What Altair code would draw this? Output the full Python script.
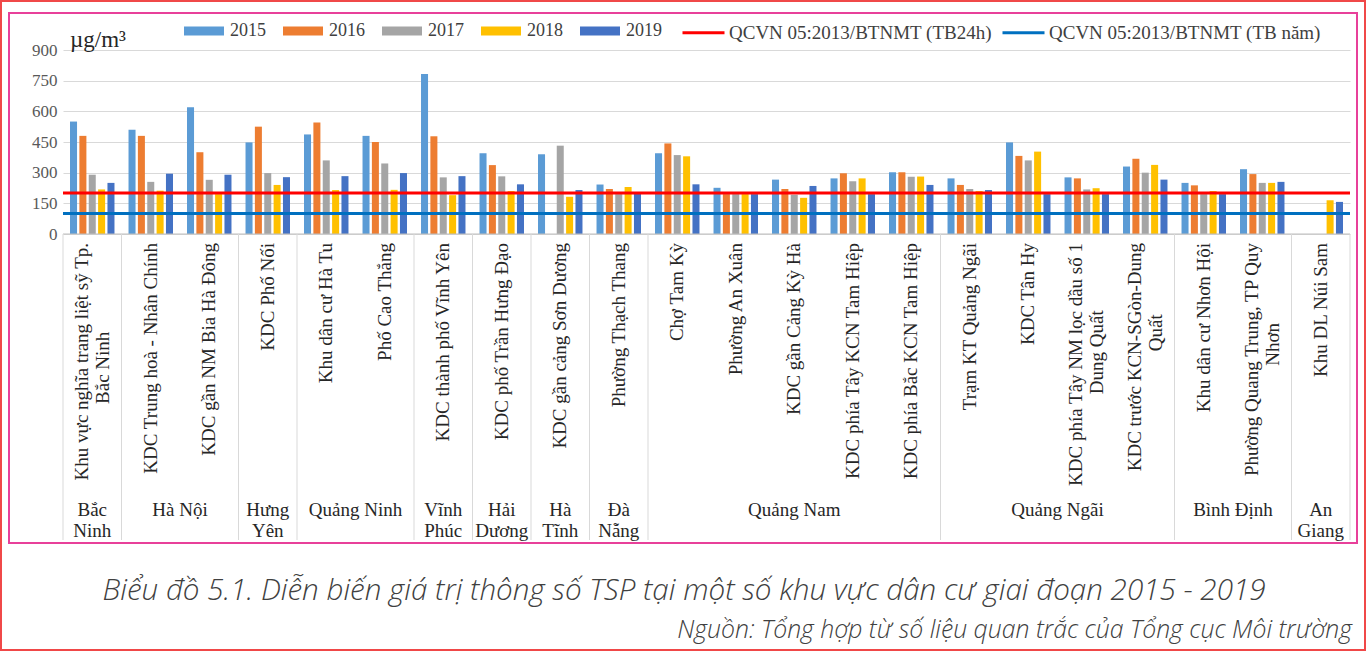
import altair as alt
import pandas as pd

SERIF = "Liberation Serif"
SANS = "Open Sans"

years = ["2015", "2016", "2017", "2018", "2019"]
year_colors = ["#5B9BD5", "#ED7D31", "#A5A5A5", "#FFC000", "#4472C4"]

locations = [
    "Khu vực nghĩa trang liệt  sỹ Tp.\nBắc Ninh",
    "KDC Trung hoà - Nhân Chính",
    "KDC gần NM Bia Hà Đông",
    "KDC Phố Nối",
    "Khu dân cư  Hà Tu",
    "Phố Cao Thắng",
    "KDC thành phố Vĩnh Yên",
    "KDC phố Trần Hưng Đạo",
    "KDC gần cảng Sơn Dương",
    "Phường Thạch Thang",
    "Chợ Tam Kỳ",
    "Phường An Xuân",
    "KDC gần Cảng Kỳ Hà",
    "KDC phía Tây KCN Tam Hiệp",
    "KDC phía Bắc KCN Tam Hiệp",
    "Trạm KT Quảng Ngãi",
    "KDC Tân Hy",
    "KDC phía Tây NM lọc dầu số 1\nDung Quất",
    "KDC trước KCN-SGòn-Dung\nQuất",
    "Khu dân cư Nhơn Hội",
    "Phường Quang Trung, TP Quy\nNhơn",
    "Khu DL Núi Sam",
]

groups = ["Bắc\nNinh", "Hà Nội", "Hưng\nYên", "Quảng Ninh", "Vĩnh\nPhúc", "Hải\nDương",
          "Hà\nTĩnh", "Đà\nNẵng", "Quảng Nam", "Quảng Ngãi", "Bình Định", "An\nGiang"]
group_sizes = [1, 2, 1, 2, 1, 1, 1, 1, 5, 4, 2, 1]

v2015 = [550, 510, 620, 448, 487, 480, 783, 395, 390, 242, 395, 226, 266, 272, 302, 272, 448, 277, 330, 250, 317, None]
v2016 = [480, 480, 400, 525, 545, 450, 478, 337, None, 220, 443, 195, 220, 297, 302, 240, 382, 272, 368, 238, 293, None]
v2017 = [290, 255, 265, 298, 360, 345, 277, 282, 432, 195, 386, 195, 192, 258, 280, 220, 360, 218, 300, 195, 250, None]
v2018 = [218, 212, 195, 240, 215, 216, 190, 210, 182, 230, 380, 195, 177, 272, 281, 210, 403, 224, 338, 210, 250, 165]
v2019 = [250, 295, 290, 278, 283, 298, 283, 243, 215, 205, 243, 195, 235, 195, 240, 215, 195, 195, 266, 195, 255, 157]

standards = ["QCVN 05:2013/BTNMT (TB24h)", "QCVN 05:2013/BTNMT (TB năm)"]
standard_values = [200, 100]
standard_colors = ["#FF0000", "#0070C0"]

y_ticks = [0, 150, 300, 450, 600, 750, 900]
unit_label = ["µg/m³"]
caption = ["Biểu đồ 5.1. Diễn biến giá trị thông số TSP tại một số khu vực dân cư giai đoạn 2015 - 2019"]
source = ["Nguồn: Tổng hợp từ số liệu quan trắc của Tổng cục Môi trường"]

# ---- tables built from the arrays ----
rows = []
for yr, vals in zip(years, [v2015, v2016, v2017, v2018, v2019]):
    for i, loc in enumerate(locations):
        if vals[i] is not None:
            rows.append({"loc": loc, "year": yr, "value": vals[i]})
bars_df = pd.DataFrame(rows)

lab_rows = []
for i, loc in enumerate(locations):
    parts = loc.split("\n")
    lab_rows.append({"idx": i, "line1": parts[0], "line2": parts[1] if len(parts) > 1 else ""})
lab_df = pd.DataFrame(lab_rows)

grp_rows = []
start = 0
for g, n in zip(groups, group_sizes):
    grp_rows.append({"group": g, "start": start, "n": n})
    start += n
grp_df = pd.DataFrame(grp_rows)
bounds_df = pd.DataFrame({"b": [r["start"] for r in grp_rows] + [start]})

std_df = pd.DataFrame({"std": standards, "value": standard_values})
zero_df = pd.DataFrame({"value": [0]})
one = pd.DataFrame({"a": [0]})

NCAT = len(locations)
W, H = 1287, 184
LABEL_TOP = 193
TABLE_BOTTOM = 490
CAT_FS = 19

qx = lambda f: alt.X(f, type="quantitative", scale=alt.Scale(domain=[0, NCAT], nice=False, zero=False), axis=None)

yscale = alt.Scale(domain=[0, 900], nice=False)
yaxis = alt.Axis(values=y_ticks, grid=True, gridColor="#D9D9D9", gridWidth=1, domain=False, ticks=False,
                 labelFont=SERIF, labelFontSize=17, labelColor="#595959", labelPadding=6,
                 labelOverlap=False, title=None)

bars = alt.Chart(bars_df).mark_bar().encode(
    x=alt.X("loc:N", scale=alt.Scale(domain=locations, paddingInner=0.24, paddingOuter=0.12), axis=None),
    xOffset=alt.XOffset("year:N", scale=alt.Scale(domain=years, paddingInner=0.25)),
    y=alt.Y("value:Q", scale=yscale, axis=yaxis),
    fill=alt.Fill("year:N", scale=alt.Scale(domain=years, range=year_colors),
                  legend=alt.Legend(orient="none", legendX=121, legendY=-39, direction="horizontal",
                                    title=None, symbolType="M-1,-0.22H1V0.22H-1Z", symbolSize=1600,
                                    symbolStrokeWidth=0, labelFont=SERIF, labelFontSize=18,
                                    labelColor="#404040", columnPadding=17, labelOffset=6,
                                    labelLimit=0)),
)

baseline = alt.Chart(zero_df).mark_rule(color="#BFBFBF", strokeWidth=1).encode(
    y=alt.Y("value:Q", scale=yscale, axis=yaxis)
)

std_rules = alt.Chart(std_df).mark_rule(strokeWidth=3).encode(
    y=alt.Y("value:Q", scale=yscale, axis=yaxis),
    stroke=alt.Stroke("std:N", scale=alt.Scale(domain=standards, range=standard_colors),
                      legend=alt.Legend(orient="none", legendX=618, legendY=-40, direction="horizontal",
                                        title=None, symbolType="stroke", symbolSize=1764,
                                        symbolStrokeWidth=3, labelFont=SERIF, labelFontSize=19,
                                        labelColor="#404040", columnPadding=4, labelOffset=3,
                                        labelLimit=0)),
)

seps = alt.Chart(bounds_df).mark_rule(color="#D9D9D9", strokeWidth=1).encode(
    x=qx("b"), y=alt.value(H), y2=alt.value(TABLE_BOTTOM)
)

cat1 = alt.Chart(lab_df).transform_calculate(
    px="datum.idx + 0.5 - (datum.line2 != '' ? 0.18 : 0)"
).mark_text(angle=270, align="right", baseline="middle", font=SERIF, fontSize=CAT_FS, color="#262626").encode(
    x=qx("px"), y=alt.value(LABEL_TOP), text="line1:N"
)

cat2 = alt.Chart(lab_df).transform_filter("datum.line2 != ''").transform_calculate(
    px="datum.idx + 0.5 + 0.18",
    py=f"{LABEL_TOP} + length(datum.line1) * 3.9",
).mark_text(angle=270, align="center", baseline="middle", font=SERIF, fontSize=CAT_FS, color="#262626").encode(
    x=qx("px"), y=alt.Y("py:Q", scale=None), text="line2:N"
)

grp_text = alt.Chart(grp_df).transform_calculate(
    px="datum.start + datum.n / 2"
).mark_text(align="center", baseline="top", font=SERIF, fontSize=19, lineHeight=21, lineBreak="\n",
            color="#262626").encode(
    x=qx("px"), y=alt.value(451), text="group:N"
)

unit = alt.Chart(pd.DataFrame({"t": unit_label})).mark_text(
    align="left", baseline="middle", font=SERIF, fontSize=23, color="#262626"
).encode(x=alt.value(7), y=alt.value(-10), text="t:N")

cap = alt.Chart(pd.DataFrame({"t": caption})).mark_text(
    align="center", baseline="middle", font=SANS, fontSize=29.6, fontStyle="italic", fontWeight=300,
    color="#404040"
).encode(x=alt.value(621), y=alt.value(541), text="t:N")

src = alt.Chart(pd.DataFrame({"t": source})).mark_text(
    align="right", baseline="middle", font=SANS, fontSize=24.8, fontStyle="italic", fontWeight=300,
    color="#404040"
).encode(x=alt.value(1289), y=alt.value(581), text="t:N")

pink = alt.Chart(one).mark_rect(fillOpacity=0, stroke="#E8409A", strokeWidth=2).encode(
    x=alt.value(-54), x2=alt.value(1294), y=alt.value(-37), y2=alt.value(493)
)
outer = alt.Chart(one).mark_rect(fillOpacity=0, stroke="#F04848", strokeWidth=2).encode(
    x=alt.value(-62), x2=alt.value(1302), y=alt.value(-49), y2=alt.value(600)
)

chart = alt.layer(
    bars, baseline, std_rules, seps, cat1, cat2, grp_text, unit, cap, src, pink, outer
).resolve_scale(x="independent").properties(
    width=W, height=H, autosize="none",
    padding={"left": 63, "top": 50, "right": 16, "bottom": 417},
    background="white",
).configure_view(stroke=None)

chart.save("out.html", embed_options={"renderer": "svg", "actions": False})
